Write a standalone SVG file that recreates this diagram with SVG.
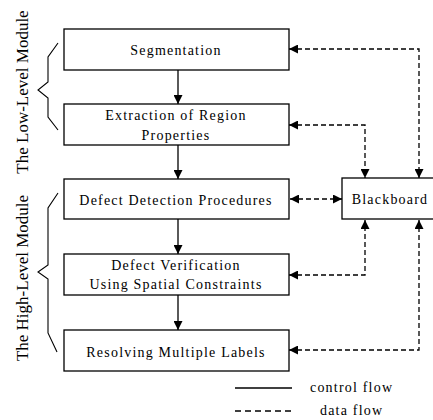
<svg xmlns="http://www.w3.org/2000/svg" width="433" height="420" viewBox="0 0 433 420">
<defs>
<marker id="ah" viewBox="0 0 10 10" refX="10" refY="5" markerWidth="9" markerHeight="9" markerUnits="userSpaceOnUse" orient="auto-start-reverse">
<path d="M0,0 L10,5 L0,10 Z" fill="#000"/>
</marker>
</defs>
<style>
.box{fill:#fff;stroke:#000;stroke-width:1.3}
.t{font-size:14px;letter-spacing:1.2px;text-anchor:middle;fill:#000}
.side{font-size:17px;text-anchor:middle;fill:#000}
.ctl{stroke:#000;stroke-width:1.3;fill:none}
.dat{stroke:#000;stroke-width:1.3;fill:none;stroke-dasharray:5,3}
.br{stroke:#000;stroke-width:1.1;fill:none}
</style>
<rect width="433" height="420" fill="#fff"/>
<g id="connectors">
<line class="ctl" x1="178" y1="70" x2="178" y2="104" marker-end="url(#ah)"/>
<line class="ctl" x1="178" y1="145" x2="178" y2="179" marker-end="url(#ah)"/>
<line class="ctl" x1="178" y1="219" x2="178" y2="254" marker-end="url(#ah)"/>
<line class="ctl" x1="178" y1="295" x2="178" y2="330" marker-end="url(#ah)"/>
<polyline class="dat" points="289,49 419,49 419,178" marker-start="url(#ah)" marker-end="url(#ah)"/>
<polyline class="dat" points="289,125 365,125 365,178" marker-start="url(#ah)" marker-end="url(#ah)"/>
<line class="dat" x1="290" y1="199" x2="342" y2="199" marker-start="url(#ah)" marker-end="url(#ah)"/>
<polyline class="dat" points="289,275 365,275 365,220" marker-start="url(#ah)" marker-end="url(#ah)"/>
<polyline class="dat" points="289,350 419,350 419,220" marker-start="url(#ah)" marker-end="url(#ah)"/>
</g>
<g font-family="'Liberation Serif', 'Times New Roman', serif">
<g id="seg"><rect class="box" x="64" y="29" width="225" height="41"/><text class="t" x="176" y="55">Segmentation</text></g>
<g id="extract"><rect class="box" x="64" y="104" width="225" height="41"/><text class="t" x="176" y="120">Extraction of Region</text><text class="t" x="176" y="140">Properties</text></g>
<g id="detect"><rect class="box" x="64" y="179" width="225" height="40"/><text class="t" x="176" y="205">Defect Detection Procedures</text></g>
<g id="verify"><rect class="box" x="64" y="254" width="225" height="41"/><text class="t" x="176" y="270">Defect Verification</text><text class="t" x="176" y="289">Using Spatial Constraints</text></g>
<g id="resolve"><rect class="box" x="64" y="330" width="225" height="41"/><text class="t" x="176" y="357">Resolving Multiple Labels</text></g>
<g id="blackboard"><rect class="box" x="342" y="178" width="100" height="41"/><text class="t" x="390" y="204">Blackboard</text></g>
<g id="low-module">
<polyline class="br" points="58,43 48,57 48,82 38,90 48,98 48,117 58,130"/>
<text class="side" transform="translate(28,92) rotate(-90)">The Low-Level Module</text>
</g>
<g id="high-module">
<polyline class="br" points="58,193 48,208 48,265 38,272 48,279 48,333 57,352"/>
<text class="side" transform="translate(28,278) rotate(-90)">The High-Level Module</text>
</g>
<g id="legend">
<line class="ctl" x1="235" y1="388" x2="292" y2="388"/>
<text class="t" x="310" y="392" style="text-anchor:start">control flow</text>
<line class="dat" x1="235" y1="411" x2="292" y2="411" style="stroke-dasharray:6,4"/>
<text class="t" x="320" y="415" style="text-anchor:start">data flow</text>
</g>
</g>
</svg>
